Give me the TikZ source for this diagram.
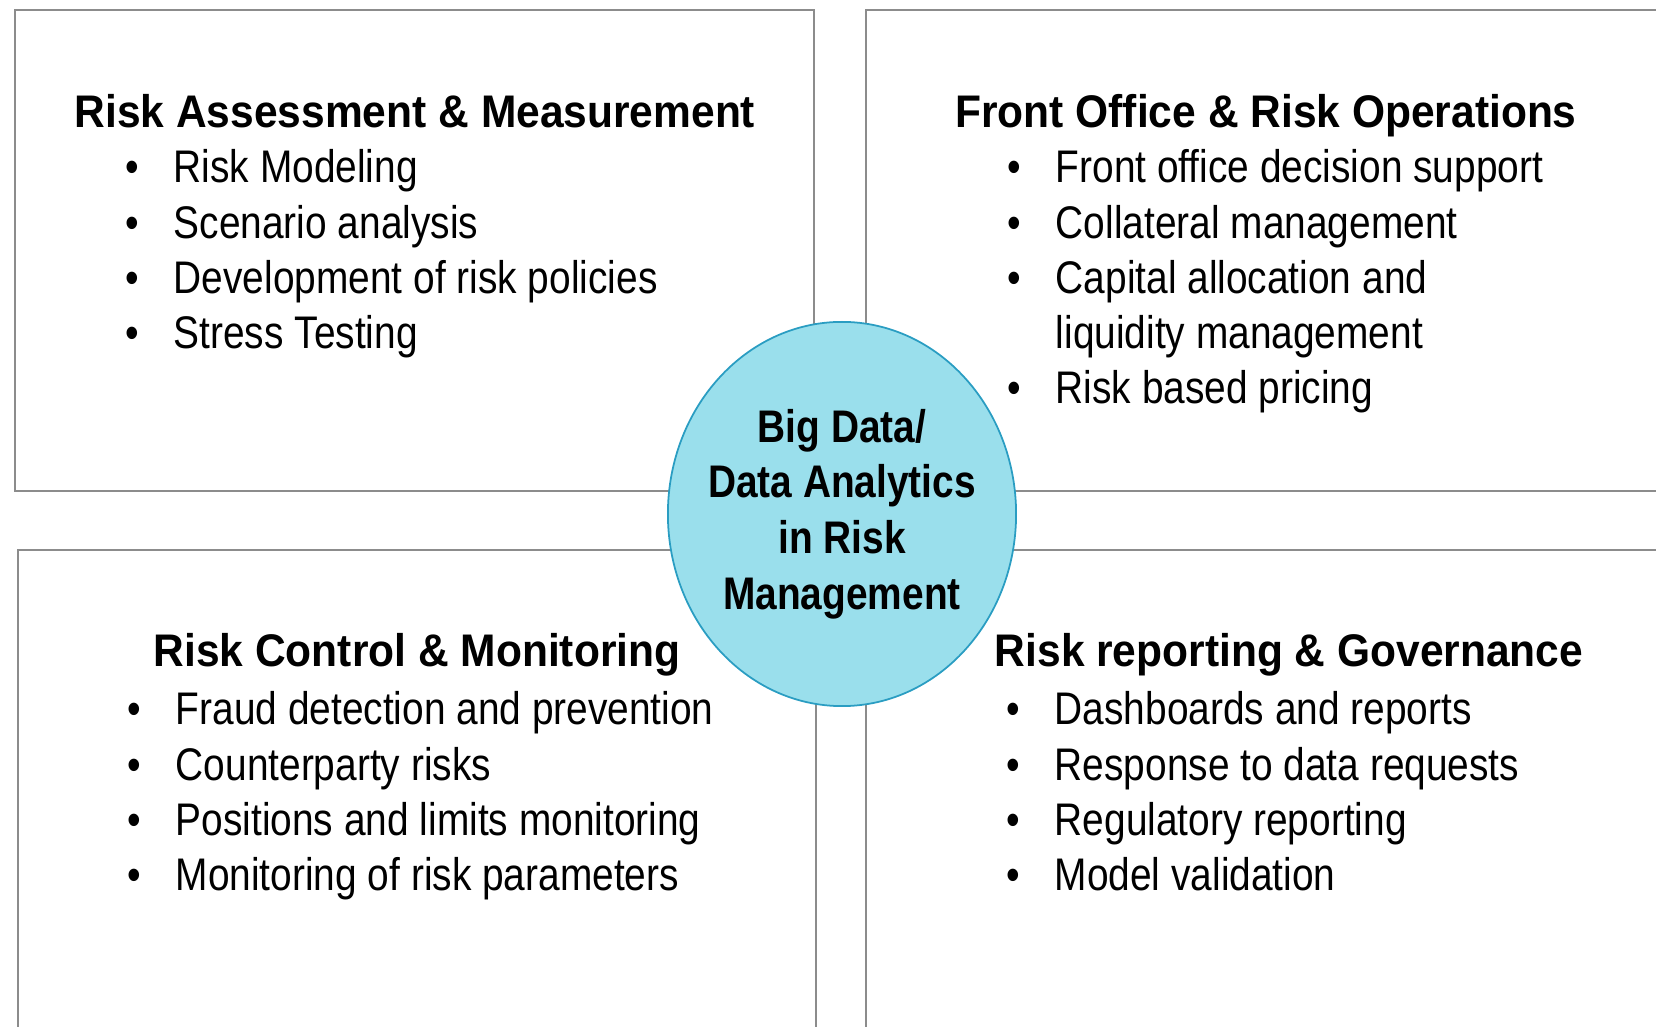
\documentclass[tikz,border=0pt]{standalone}
\usepackage{fontspec}
\setmainfont{Liberation Sans}[FakeStretch=0.85]
\newfontfamily\headfont{Liberation Sans}[FakeStretch=0.93]
\usetikzlibrary{shapes.geometric}
\definecolor{boxgray}{HTML}{8C8C8C}
\definecolor{hubfill}{HTML}{9ADFEC}
\definecolor{hubline}{HTML}{2A9DC2}
\tikzset{
  riskbox/.style={draw=boxgray, line width=0.8pt},
  heading/.style={anchor=base, inner sep=0pt, font=\fontsize{13}{15.65}\selectfont\headfont\bfseries},
  itemlist/.style={anchor=base west, inner sep=0pt, font=\fontsize{13}{15.65}\selectfont},
}
\newcommand{\risklist}[1]{\begin{tabular}[t]{@{}l@{\hspace{9.8pt}}l@{}}#1\end{tabular}}

\begin{document}
\begin{tikzpicture}[x=0.01cm, y=0.01cm]
    \useasboundingbox (0,0) rectangle (1656,1027);
    \clip (0,0) rectangle (1656,1027);
    % the four boxes
    \draw [riskbox] (15,1017) rectangle (814,536);
    \draw [riskbox] (866,1017) rectangle (1700,536);
    \draw [riskbox] (18,477) rectangle (816,-50);
    \draw [riskbox] (866,477) rectangle (1700,-50);
    % hub in the middle
    \node [ellipse, draw=hubline, fill=hubfill, line width=0.5pt,
           minimum width=3.48cm, minimum height=3.84cm, inner sep=0pt] (hub) at (842,513) {};
    \node [align=center, inner sep=0pt, font=\fontsize{13}{15.8}\selectfont\bfseries] (hubtext) at (hub.center)
           {Big Data/\\Data Analytics\\in Risk\\Management};
    % top left
    \node [heading] (assess) at (415,899) {Risk Assessment \& Measurement};
    \node [itemlist] (assesslist) at (125,844) {\risklist{
        \textbullet & Risk Modeling\\
        \textbullet & Scenario analysis\\
        \textbullet & Development of risk policies\\
        \textbullet & Stress Testing}};
    % top right
    \node [heading] (front) at (1266,899) {Front Office \& Risk Operations};
    \node [itemlist] (frontlist) at (1007,844) {\risklist{
        \textbullet & Front office decision support\\
        \textbullet & Collateral management\\
        \textbullet & Capital allocation and\\
                    & liquidity management\\
        \textbullet & Risk based pricing}};
    % bottom left
    \node [heading] (control) at (417,360) {Risk Control \& Monitoring};
    \node [itemlist] (controllist) at (127,302) {\risklist{
        \textbullet & Fraud detection and prevention\\
        \textbullet & Counterparty risks\\
        \textbullet & Positions and limits monitoring\\
        \textbullet & Monitoring of risk parameters}};
    % bottom right
    \node [heading] (report) at (1289,360) {Risk reporting \& Governance};
    \node [itemlist] (reportlist) at (1006,302) {\risklist{
        \textbullet & Dashboards and reports\\
        \textbullet & Response to data requests\\
        \textbullet & Regulatory reporting\\
        \textbullet & Model validation}};
\end{tikzpicture}
\end{document}
